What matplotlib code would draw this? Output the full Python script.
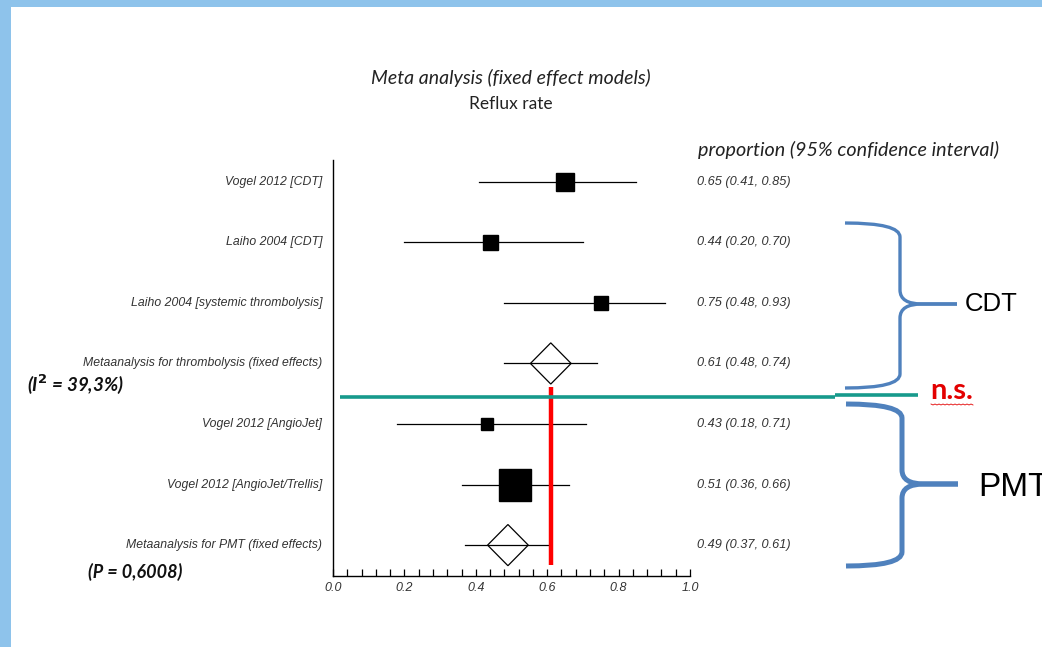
import numpy as np
import matplotlib
matplotlib.use("Agg")
import matplotlib.pyplot as plt
from matplotlib.path import Path
from matplotlib.patches import PathPatch, Polygon, Rectangle

# forest plot data (reflux rate, proportion with 95% CI)
studies = ["Vogel 2012 [CDT]", "Laiho 2004 [CDT]", "Laiho 2004 [systemic thrombolysis]",
           "Metaanalysis for thrombolysis (fixed effects)", "Vogel 2012 [AngioJet]",
           "Vogel 2012 [AngioJet/Trellis]", "Metaanalysis for PMT (fixed effects)"]
est = [0.65, 0.44, 0.75, 0.61, 0.43, 0.51, 0.49]
lo = [0.41, 0.20, 0.48, 0.48, 0.18, 0.36, 0.37]
hi = [0.85, 0.70, 0.93, 0.74, 0.71, 0.66, 0.61]
pooled = [False, False, False, True, False, False, True]
weight_px = [18, 15, 14, 0, 12, 32, 0]    # square size in pixels
xticks = [0.0, 0.2, 0.4, 0.6, 0.8, 1.0]

W, H = 1042, 647
fig = plt.figure(figsize=(W / 100, H / 100), dpi=100)

# main forest axes (pixel box 333..690 x 160..576)
ax = fig.add_axes([333 / W, 1 - 576 / H, 357 / W, 416 / H])
rows = np.arange(len(studies))
ax.set_xlim(0, 1)
ax.set_ylim(6.51, -0.36)

for i in rows:
    ax.plot([lo[i], hi[i]], [i, i], color="black", lw=0.9, zorder=2)
    if pooled[i]:
        hw, hh = 0.057, 0.34
        d = Polygon([[est[i] - hw, i], [est[i], i - hh], [est[i] + hw, i], [est[i], i + hh]],
                    closed=True, facecolor="none", edgecolor="black", lw=0.9, zorder=3)
        ax.add_patch(d)
    else:
        ax.plot(est[i], i, marker="s", color="black", markersize=weight_px[i] * 0.72,
                linestyle="none", zorder=3)

# red reference line at pooled thrombolysis estimate
ax.plot([est[3], est[3]], [3.39, 6.33], color="#ff0000", lw=3.2, zorder=4, solid_capstyle="butt")

for s in ["top", "right"]:
    ax.spines[s].set_visible(False)
ax.spines["left"].set_linewidth(1.0)
ax.spines["bottom"].set_linewidth(1.0)
ax.set_yticks([])
ax.set_xticks(xticks)
ax.set_xticks(np.arange(0, 1.001, 0.04), minor=True)
ax.tick_params(axis="x", which="both", direction="in", length=5, width=0.9, pad=4)
ax.set_xticklabels([f"{t:.1f}" for t in xticks], fontsize=9, style="italic",
                   color="#333333", family="Liberation Sans")

# study labels and values
for i in rows:
    ax.text(-0.03, i, studies[i], ha="right", va="center", fontsize=8.8, style="italic",
            color="#333333", family="Liberation Sans", transform=ax.get_yaxis_transform())
    ax.text(1.02, i, f"{est[i]:.2f} ({lo[i]:.2f}, {hi[i]:.2f})", ha="left", va="center",
            fontsize=9.2, style="italic", color="#333333", family="Liberation Sans",
            transform=ax.get_yaxis_transform())

# overlay in pixel coordinates for slide decorations
ov2 = fig.add_axes([0, 0, 1, 1], zorder=5)
ov2.set_xlim(0, W)
ov2.set_ylim(H, 0)
ov2.axis("off")
ov2.patch.set_alpha(0)

border = "#8ec3eb"
ov2.add_patch(Rectangle((0, 0), W, 7, color=border, lw=0))
ov2.add_patch(Rectangle((0, 0), 11, H, color=border, lw=0))

ov2.text(511, 78, "Meta analysis (fixed effect models)", ha="center", va="center",
         fontsize=14, style="italic", family="Lato", color="#222222")
ov2.text(511, 104, "Reflux rate", ha="center", va="center", fontsize=12.5,
         family="Lato", color="#222222")
ov2.text(698, 150, "proportion (95% confidence interval)", ha="left", va="center",
         fontsize=14.2, style="italic", family="Lato", color="#222222")
ov2.text(27, 385, "(I$^{\\mathbf{2}}$ = 39,3%)", ha="left", va="center", fontsize=13.5,
         style="italic", weight="bold", family="Lato", color="#111111")
ov2.text(88, 572, "(P = 0,6008)", ha="left", va="center", fontsize=13,
         style="italic", weight="bold", family="Lato", color="#111111")

# teal separator
ov2.plot([340, 835], [397, 397], color="#179a8c", lw=2.6, solid_capstyle="butt")
ov2.plot([835, 918], [395, 395], color="#179a8c", lw=2.6, solid_capstyle="butt")


def brace(x0, xv, xtip, ytop, ymid, ybot, lw):
    r = 14
    verts = [(x0, ytop), (xv, ytop), (xv, ytop + r),
             (xv, ymid - r), (xv, ymid), (xv + 22, ymid),
             (xtip, ymid)]
    codes = [Path.MOVETO, Path.CURVE3, Path.CURVE3, Path.LINETO,
             Path.CURVE3, Path.CURVE3, Path.LINETO]
    verts2 = [(xtip, ymid), (xv + 22, ymid), (xv, ymid), (xv, ymid + r),
              (xv, ybot - r), (xv, ybot), (x0, ybot)]
    codes2 = [Path.MOVETO, Path.LINETO, Path.CURVE3, Path.CURVE3,
              Path.LINETO, Path.CURVE3, Path.CURVE3]
    for v, c in [(verts, codes), (verts2, codes2)]:
        ov2.add_patch(PathPatch(Path(v, c), facecolor="none", edgecolor="#4f81bd",
                                lw=lw, capstyle="butt"))


brace(845, 900, 957, 223, 304, 388, 2.4)
brace(846, 902, 958, 404, 484, 566, 3.6)

ov2.text(965, 304, "CDT", ha="left", va="center", fontsize=18.5, family="Liberation Sans",
         color="black")
ov2.text(978, 487, "PMT", ha="left", va="center", fontsize=24, family="Liberation Sans",
         color="black", clip_on=False)
ov2.text(930, 391, "n.s.", ha="left", va="center", fontsize=21, weight="bold",
         family="Lato", color="#e30000")
zx = np.arange(931, 975, 2.0)
ov2.plot(zx, 404 + 1.0 * (np.arange(len(zx)) % 2), color="#e30000", lw=0.6)

fig.savefig("out.png", dpi=100)
